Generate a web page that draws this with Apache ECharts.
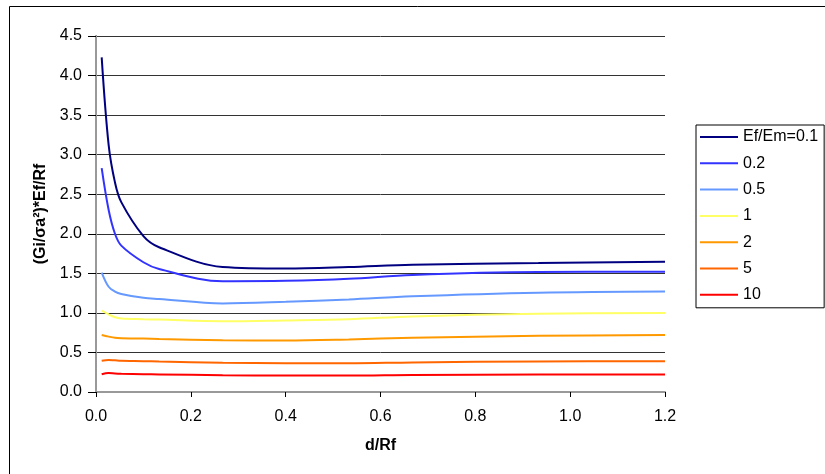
<!DOCTYPE html>
<html>
<head>
<meta charset="utf-8">
<script src="https://cdn.jsdelivr.net/npm/echarts@6/dist/echarts.min.js"></script>
<style>
html,body{margin:0;padding:0;background:#fff;}
#c{width:825px;height:474px;}
</style>
</head>
<body>
<div id="c"></div>
<script>
var xValues = [0.012, 0.0267, 0.04, 0.0533, 0.1, 0.133, 0.267, 0.4, 0.533, 0.667, 0.933, 1.2];
var seriesNames = ['Ef/Em=0.1', '0.2', '0.5', '1', '2', '5', '10'];
var s01 = [4.23, 3.12, 2.65, 2.40, 1.97, 1.83, 1.58, 1.56, 1.58, 1.61, 1.63, 1.647];
var s02 = [2.83, 2.30, 2.00, 1.85, 1.64, 1.555, 1.40, 1.405, 1.43, 1.48, 1.517, 1.52];
var s05 = [1.51, 1.33, 1.27, 1.24, 1.19, 1.175, 1.12, 1.14, 1.17, 1.21, 1.255, 1.27];
var s1  = [1.03, 0.98, 0.945, 0.93, 0.92, 0.915, 0.895, 0.905, 0.92, 0.955, 0.99, 1.0];
var s2  = [0.72, 0.70, 0.685, 0.68, 0.675, 0.67, 0.655, 0.652, 0.665, 0.686, 0.71, 0.72];
var s5  = [0.395, 0.405, 0.40, 0.395, 0.39, 0.385, 0.37, 0.363, 0.363, 0.374, 0.387, 0.39];
var s10 = [0.225, 0.24, 0.235, 0.232, 0.225, 0.222, 0.212, 0.207, 0.207, 0.215, 0.22, 0.222];
var xTicks = ['0.0', '0.2', '0.4', '0.6', '0.8', '1.0', '1.2'];
var yTicks = ['0.0', '0.5', '1.0', '1.5', '2.0', '2.5', '3.0', '3.5', '4.0', '4.5'];

var colors = ['#000080', '#3333FF', '#6699FF', '#FFFF66', '#FF9900', '#FF6600', '#FF0000'];
var allSeries = [s01, s02, s05, s1, s2, s5, s10];
var font = 'Liberation Sans, Arial, sans-serif';

function pair(vals) {
  return xValues.map(function (x, i) { return [x, vals[i]]; });
}

var chart = echarts.init(document.getElementById('c'), null, {renderer: 'canvas'});
chart.setOption({
  animation: false,
  backgroundColor: '#fff',
  color: colors,
  textStyle: {fontFamily: font},
  graphic: [{
    type: 'rect',
    shape: {x: 9.5, y: 6.5, width: 900, height: 600},
    style: {fill: null, stroke: '#000', lineWidth: 1},
    z: -10, silent: true
  }],
  grid: {left: 96, top: 36, right: 160, bottom: 82, containLabel: false},
  legend: {
    orient: 'vertical',
    left: 696, top: 125,
    padding: [4, 6, 5, 4],
    itemGap: 10.3,
    itemWidth: 38, itemHeight: 2,
    icon: 'rect',
    borderColor: '#000', borderWidth: 1,
    textStyle: {fontFamily: font, fontSize: 16, color: '#000', lineHeight: 16},
    data: seriesNames
  },
  xAxis: [{
    type: 'value', min: 0, max: 1.2, interval: 0.2,
    name: 'd/Rf', nameLocation: 'middle', nameGap: 46,
    nameTextStyle: {fontFamily: font, fontSize: 16, fontWeight: 'bold', color: '#000'},
    axisLine: {show: true, onZero: false, lineStyle: {color: '#000', width: 1}},
    axisTick: {show: true, length: 5, lineStyle: {color: '#000'}},
    axisLabel: {fontFamily: font, fontSize: 16, color: '#000', margin: 17,
      formatter: function (v) { return xTicks[Math.round(v / 0.2)]; }},
    splitLine: {show: false}
  }, {
    type: 'value', min: 0, max: 1.2, position: 'top',
    axisLine: {show: true, lineStyle: {color: '#999', width: 2}},
    axisTick: {show: false}, axisLabel: {show: false}, splitLine: {show: false}
  }],
  yAxis: [{
    type: 'value', min: 0, max: 4.5, interval: 0.5,
    name: '(Gi/σa²)*Ef/Rf', nameLocation: 'middle', nameGap: 46, nameRotate: 90,
    nameTextStyle: {fontFamily: font, fontSize: 16, fontWeight: 'bold', color: '#000'},
    axisLine: {show: true, onZero: false, lineStyle: {color: '#000', width: 1}},
    axisTick: {show: true, length: 8, lineStyle: {color: '#000'}},
    axisLabel: {fontFamily: font, fontSize: 16, color: '#000', margin: 14,
      formatter: function (v) { return yTicks[Math.round(v / 0.5)]; }},
    splitLine: {show: true, lineStyle: {color: '#333', width: 1}}
  }, {
    type: 'value', min: 0, max: 4.5, position: 'right',
    axisLine: {show: true, lineStyle: {color: '#999', width: 2}},
    axisTick: {show: false}, axisLabel: {show: false}, splitLine: {show: false}
  }],
  series: seriesNames.map(function (n, i) {
    return {
      name: n, type: 'line', data: pair(allSeries[i]),
      smooth: 0.35,
      showSymbol: false, symbol: 'none',
      lineStyle: {width: 2, color: colors[i]},
      itemStyle: {color: colors[i]},
      z: 3 + i
    };
  })
});
</script>
</body>
</html>
